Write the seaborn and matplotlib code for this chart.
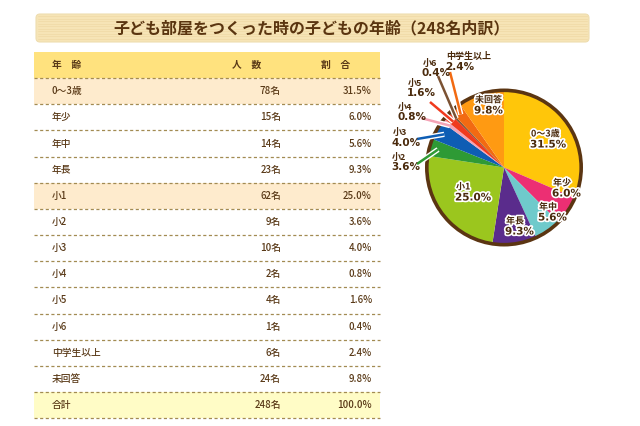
import matplotlib
matplotlib.use("Agg")
import matplotlib.pyplot as plt
import matplotlib.patheffects as pe
from matplotlib.patches import Rectangle, FancyBboxPatch
import numpy as np
import seaborn as sns

# ---------------- data ----------------
title = "子ども部屋をつくった時の子どもの年齢（248名内訳）"
header = ["年　齢", "人　数", "割　合"]
categories = ["0〜3歳", "年少", "年中", "年長", "小1", "小2", "小3", "小4", "小5", "小6", "中学生以上", "未回答"]
counts = [78, 15, 14, 23, 62, 9, 10, 2, 4, 1, 6, 24]
percents = [31.5, 6.0, 5.6, 9.3, 25.0, 3.6, 4.0, 0.8, 1.6, 0.4, 2.4, 9.8]
total_label = "合計"
total_count = 248
total_percent = 100.0
colors = ["#FFC60A", "#EC2F73", "#6FCACB", "#5A2C8C", "#9BC61E", "#2E9A35",
          "#0E5DB4", "#F4A3B6", "#F03A1E", "#7B5233", "#F26A12", "#FF9A12"]
highlight_rows = ["0〜3歳", "小1"]

sns.set_theme(style="white")
plt.rcParams["font.family"] = ["Noto Sans CJK JP", "DejaVu Sans"]

W, H = 640, 426
fig = plt.figure(figsize=(6.4, 4.26), dpi=100)
fig.patch.set_facecolor("white")
bg = fig.add_axes([0, 0, 1, 1])
bg.set_xlim(0, W)
bg.set_ylim(H, 0)
bg.axis("off")

txt = "#5A3A18"
lab = "#4A2A0C"

# ---------------- title banner ----------------
banner = FancyBboxPatch((36, 14), 553, 28, boxstyle="round,pad=0,rounding_size=4",
                        fc="#F6E4B6", ec="#EEDDB0", lw=0.8, zorder=1)
bg.add_patch(banner)
for yy in np.arange(16, 41, 2.5):
    bg.plot([38, 587], [yy, yy], color="#EBD39A", lw=0.5, alpha=0.6, zorder=1.5)
bg.text(312, 28.5, title, ha="center", va="center", fontsize=11.5, fontweight="bold",
        color="#5A3510", zorder=3)

# ---------------- table ----------------
x0, x1 = 34, 380
row_h = 26.15
top = 52
bg.add_patch(Rectangle((x0, top), x1 - x0, row_h, fc="#FFE27E", ec="none", zorder=1))
bg.text(52, top + row_h / 2, header[0], ha="left", va="center", fontsize=7, fontweight="bold", color=txt)
bg.text(247, top + row_h / 2, header[1], ha="center", va="center", fontsize=7, fontweight="bold", color=txt)
bg.text(336, top + row_h / 2, header[2], ha="center", va="center", fontsize=7, fontweight="bold", color=txt)

rows = list(zip(categories, counts, percents)) + [(total_label, total_count, total_percent)]
for i, (cat, n, p) in enumerate(rows):
    y = top + row_h * (i + 1)
    if cat == total_label:
        fc = "#FFFCC6"
    elif cat in highlight_rows:
        fc = "#FEEBCD"
    else:
        fc = "white"
    bg.add_patch(Rectangle((x0, y), x1 - x0, row_h, fc=fc, ec="none", zorder=1))
    bg.plot([x0, x1], [y, y], color="#A28B52", lw=0.9, ls=(0, (2.5, 2)), zorder=2)
    cy_ = y + row_h / 2
    bg.text(52, cy_, cat, ha="left", va="center", fontsize=7, color=txt, fontweight="medium")
    bg.text(281, cy_, f"{n}名", ha="right", va="center", fontsize=7, color=txt, fontweight="medium")
    bg.text(372, cy_, f"{p:.1f}%", ha="right", va="center", fontsize=7, color=txt, fontweight="medium")
yb = top + row_h * (len(rows) + 1)
bg.plot([x0, x1], [yb, yb], color="#A28B52", lw=0.9, ls=(0, (2.5, 2)), zorder=2)

# ---------------- pie ----------------
cx, cy, R = 504, 167.5, 79.5
pax = fig.add_axes([(cx - R) / W, 1 - (cy + R) / H, 2 * R / W, 2 * R / H])
wedges, _ = pax.pie(counts, colors=colors, startangle=90, counterclock=False,
                    wedgeprops=dict(linewidth=0, edgecolor="none"))
pax.add_patch(plt.Circle((0, 0), 1.0, fill=False, ec="#5B3512", lw=2.6, zorder=5))
pax.set_xlim(-1.03, 1.03)
pax.set_ylim(-1.03, 1.03)
pax.set_aspect("equal")
pax.axis("off")
pax.patch.set_alpha(0)

# overlay for labels and leader lines
fg = fig.add_axes([0, 0, 1, 1])
fg.set_xlim(0, W)
fg.set_ylim(H, 0)
fg.axis("off")
fg.patch.set_alpha(0)

halo = [pe.withStroke(linewidth=2.4, foreground="white")]


def pie_label(ax, x, y, cat, p, effects):
    ax.text(x + 1, y, cat, ha="left", va="center", fontsize=6.5, color=lab,
            fontweight="bold", path_effects=effects, zorder=10)
    ax.text(x, y + 10.5, f"{p:.1f}%", ha="left", va="center", fontsize=7.5, color=lab,
            family="DejaVu Sans", fontweight="bold", path_effects=effects, zorder=10)


inner_pos = {"0〜3歳": (530, 134), "年少": (552, 183), "年中": (538, 207),
             "年長": (505, 221), "小1": (455, 187), "未回答": (474, 100)}
for cat, p in zip(categories, percents):
    if cat in inner_pos:
        px, py = inner_pos[cat]
        pie_label(fg, px, py, cat, p, halo)

outer_pos = {"小2": (391, 157, 417, 164), "小3": (392, 132, 417, 139),
             "小4": (397, 107, 421, 118), "小5": (407, 83, 430, 102),
             "小6": (422, 63, 438, 76), "中学生以上": (445, 57, 450, 72)}
cum = np.cumsum([0] + counts) / sum(counts)
for i, (cat, p) in enumerate(zip(categories, percents)):
    if cat not in outer_pos:
        continue
    tx, ty, lx, ly = outer_pos[cat]
    mid = (cum[i] + cum[i + 1]) / 2
    ang = np.deg2rad(90 - 360 * mid)
    ex = cx + 0.86 * R * np.cos(ang)
    ey = cy - 0.86 * R * np.sin(ang)
    fg.plot([lx, ex], [ly, ey], color=colors[i], lw=1.8, solid_capstyle="butt", zorder=9,
            path_effects=[pe.Stroke(linewidth=3.8, foreground="white"), pe.Normal()])
    pie_label(fg, tx, ty, cat, p, None)

fig.savefig("out.png", dpi=100, facecolor="white")
